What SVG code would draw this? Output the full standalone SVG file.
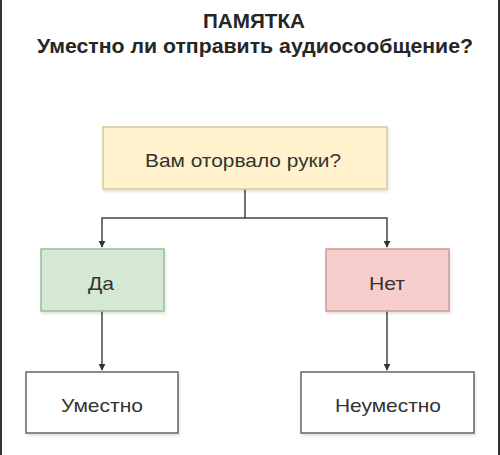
<svg xmlns="http://www.w3.org/2000/svg" width="500" height="455" viewBox="0 0 500 455">
  <defs>
    <marker id="arr" viewBox="0 0 10 10" refX="9" refY="5" markerWidth="7" markerHeight="7" markerUnits="userSpaceOnUse" orient="auto">
      <path d="M0,0 L10,5 L0,10 z" fill="#333333"/>
    </marker>
    <filter id="sh" x="-10%" y="-10%" width="130%" height="140%">
      <feDropShadow dx="1" dy="2" stdDeviation="1.5" flood-color="#000" flood-opacity="0.12"/>
    </filter>
  </defs>
  <style>
    text { font-family: "Liberation Sans", Arial, sans-serif; fill: #262626; }
    .title { font-size: 20px; font-weight: bold; text-anchor: middle; }
    .lbl { font-size: 19px; text-anchor: middle; fill: #333; }
    .box { stroke-width: 1.5; filter: url(#sh); }
    .conn { fill: none; stroke: #444; stroke-width: 1.5; }
    .edge { stroke: #333; stroke-width: 2; }
  </style>
  <rect x="0" y="0" width="500" height="455" fill="#ffffff"/>
  <line class="edge" x1="1" y1="0" x2="1" y2="455"/>
  <line class="edge" x1="499" y1="0" x2="499" y2="455"/>

  <g id="title">
    <text class="title" x="254" y="28" textLength="102" lengthAdjust="spacingAndGlyphs">ПАМЯТКА</text>
    <text class="title" x="255" y="53" textLength="436" lengthAdjust="spacingAndGlyphs">Уместно ли отправить аудиосообщение?</text>
  </g>

  <g id="connectors">
    <path class="conn" d="M245,189 V218 H102 V247" marker-end="url(#arr)"/>
    <path class="conn" d="M245,218 H387 V247" marker-end="url(#arr)"/>
    <path class="conn" d="M102,311 V370" marker-end="url(#arr)"/>
    <path class="conn" d="M387,311 V370" marker-end="url(#arr)"/>
  </g>

  <g id="question">
    <rect class="box" x="103" y="127" width="284" height="62" fill="#fff2cc" stroke="#d6c99a"/>
    <text class="lbl" x="243" y="167" textLength="196" lengthAdjust="spacingAndGlyphs">Вам оторвало руки?</text>
  </g>
  <g id="yes">
    <rect class="box" x="41" y="249" width="123" height="62" fill="#d5e8d4" stroke="#9fb99c"/>
    <text class="lbl" x="101" y="290" textLength="26" lengthAdjust="spacingAndGlyphs">Да</text>
  </g>
  <g id="no">
    <rect class="box" x="326" y="249" width="123" height="62" fill="#f8cecc" stroke="#c99b99"/>
    <text class="lbl" x="387" y="290" textLength="36" lengthAdjust="spacingAndGlyphs">Нет</text>
  </g>
  <g id="appropriate">
    <rect class="box" x="26" y="372" width="152" height="61" fill="#ffffff" stroke="#666"/>
    <text class="lbl" x="102" y="412" textLength="82" lengthAdjust="spacingAndGlyphs">Уместно</text>
  </g>
  <g id="inappropriate">
    <rect class="box" x="301" y="372" width="173" height="61" fill="#ffffff" stroke="#666"/>
    <text class="lbl" x="388" y="412" textLength="106" lengthAdjust="spacingAndGlyphs">Неуместно</text>
  </g>
</svg>
